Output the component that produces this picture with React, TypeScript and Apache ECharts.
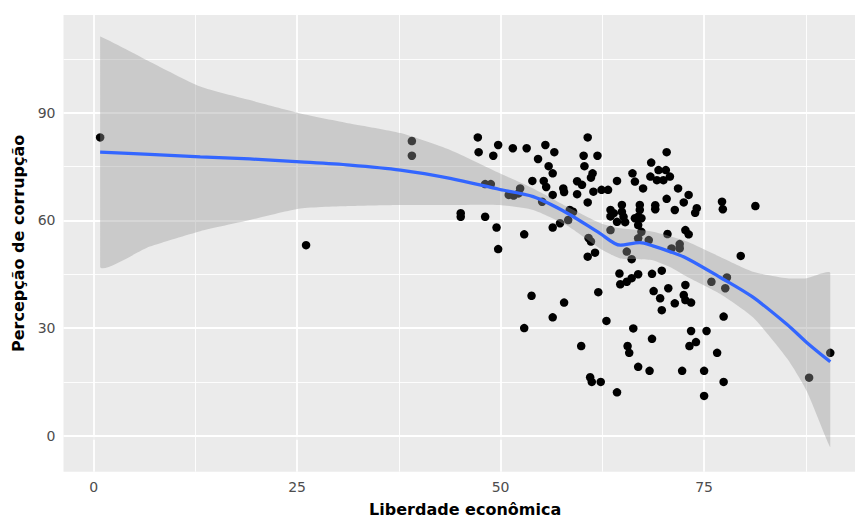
import React, { useEffect, useRef } from "react";
import * as echarts from "echarts";

// Scatter: Liberdade econômica (x) vs Percepção de corrupção (y)
const libertyX = [
  0.8, 26.1, 39.1, 39.1, 45.1, 45.1, 47.2, 47.3, 49.7, 49.1,
  48.1, 48.8, 48.1, 49.5, 49.7, 51.5, 53.2, 51.0, 51.6, 52.4,
  52.2, 52.9, 52.9, 53.8, 55.5, 56.6, 54.6, 55.9, 56.4, 53.9,
  55.3, 55.6, 55.1, 56.4, 56.4, 57.3, 58.3, 58.5, 58.9, 56.4,
  57.8, 57.7, 57.8, 60.7, 60.2, 61.9, 60.3, 61.3, 61.1, 59.4,
  60.0, 59.4, 61.4, 60.7, 62.4, 63.2, 60.8, 61.1, 60.7, 61.6,
  62.0, 63.0, 59.9, 61.0, 61.2, 62.3, 64.3, 64.3, 66.2, 66.5,
  67.5, 63.5, 63.9, 63.5, 64.9, 64.9, 65.1, 65.3, 64.3, 67.1,
  67.1, 66.9, 66.5, 67.3, 66.9, 63.5, 67.3, 66.9, 68.2, 65.5,
  66.1, 64.6, 64.7, 65.5, 66.1, 66.9, 68.6, 69.8, 68.8, 70.6,
  72.7, 69.6, 72.5, 72.7, 73.4, 71.4, 69.8, 66.3, 68.6, 65.6,
  65.8, 66.9, 68.3, 73.4, 75.3, 74.0, 73.2, 76.6, 72.3, 75.0,
  77.4, 75.0, 70.4, 68.5, 69.4, 70.3, 68.4, 69.2, 70.0, 70.8,
  71.8, 73.1, 72.5, 70.4, 69.0, 69.0, 71.4, 74.1, 73.9, 77.2,
  77.3, 81.3, 70.5, 72.7, 73.1, 71.0, 72.0, 72.0, 79.5, 75.9,
  77.8, 77.6, 77.4, 87.9, 90.5,
];
const corruptionY = [
  83.1, 53.1, 82.1, 78.0, 62.0, 61.0, 83.1, 79.0, 81.0, 78.0,
  70.1, 70.1, 61.0, 58.0, 52.0, 80.1, 80.1, 67.1, 66.9, 68.9,
  67.5, 56.1, 30.0, 39.0, 81.0, 79.0, 77.1, 75.1, 73.1, 71.0,
  71.0, 69.3, 65.2, 67.1, 58.0, 59.2, 60.1, 62.9, 62.4, 33.0,
  37.1, 68.9, 67.9, 83.1, 78.0, 78.0, 75.1, 73.1, 71.9, 70.9,
  69.9, 67.3, 68.0, 65.0, 68.5, 68.5, 55.1, 54.1, 49.9, 51.0,
  40.0, 32.0, 25.0, 16.3, 15.0, 15.0, 12.1, 71.0, 73.1, 70.8,
  68.9, 62.9, 62.0, 61.1, 64.3, 62.4, 61.0, 59.5, 59.6, 64.3,
  62.9, 61.0, 60.6, 60.6, 58.7, 57.3, 56.8, 55.0, 54.5, 51.3,
  49.2, 45.2, 42.2, 42.9, 43.9, 45.0, 45.1, 46.0, 40.3, 41.1,
  42.0, 38.3, 39.2, 37.8, 37.1, 36.9, 35.0, 29.9, 27.0, 25.0,
  23.1, 19.2, 18.1, 29.2, 29.2, 26.1, 25.0, 23.1, 18.1, 18.1,
  15.0, 11.1, 79.0, 76.1, 74.0, 74.0, 72.2, 71.2, 71.2, 72.2,
  68.9, 67.1, 65.0, 66.0, 64.2, 63.1, 62.9, 63.4, 62.1, 65.2,
  63.1, 64.0, 56.2, 57.3, 56.1, 52.2, 53.4, 52.2, 50.1, 42.9,
  44.1, 41.1, 33.2, 16.2, 23.1,
];

// LOESS smooth
const smoothX = [0.8, 6.9, 13.1, 19.2, 25.4, 31.5, 37.7, 43.8, 49.9, 54.0, 58.2, 62.2, 64.7, 67.1, 68.7, 70.8, 72.9, 77.0, 81.0, 85.2, 87.6, 90.5];
const smoothFit = [79.0, 78.4, 77.7, 77.1, 76.3, 75.4, 74.0, 71.7, 68.6, 66.6, 62.0, 56.4, 53.1, 53.8, 52.9, 51.3, 49.4, 44.1, 38.6, 31.0, 26.0, 20.6];
const smoothUpper = [111.2, 104.2, 97.3, 93.5, 89.8, 87.0, 84.3, 79.6, 73.1, 68.9, 63.8, 59.3, 57.8, 57.3, 56.8, 55.6, 54.1, 49.8, 45.7, 43.9, 43.9, 45.3];
const smoothLower = [47.1, 52.7, 57.0, 60.1, 63.3, 64.0, 64.3, 64.3, 64.3, 62.9, 58.5, 52.2, 49.4, 49.2, 48.9, 47.0, 44.3, 39.5, 33.0, 21.5, 12.5, -3.1];

const xTicks = [0, 25, 50, 75];
const yTicks = [0, 30, 60, 90];
const xMinor = [12.5, 37.5, 62.5, 87.5];
const yMinor = [15, 45, 75, 105];

const xTitle = "Liberdade econômica";
const yTitle = "Percepção de corrupção";

export default function App() {
  const ref = useRef<HTMLDivElement>(null);

  useEffect(() => {
    const chart = echarts.init(ref.current as HTMLDivElement, null, { renderer: "svg" });
    const points = libertyX.map((x, i) => [x, corruptionY[i]]);
    const band = smoothX.map((x, i) => [x, smoothLower[i], smoothUpper[i]]);
    const fit = smoothX.map((x, i) => [x, smoothFit[i]]);

    const gridData: any[] = [
      ...xMinor.map((v) => ({ xAxis: v, lineStyle: { width: 0.9 } })),
      ...yMinor.map((v) => ({ yAxis: v, lineStyle: { width: 0.9 } })),
      ...xTicks.map((v) => ({ xAxis: v, lineStyle: { width: 1.8 } })),
      ...yTicks.map((v) => ({ yAxis: v, lineStyle: { width: 1.8 } })),
    ];

    const tickLabel = {
      color: "#4D4D4D",
      fontFamily: "DejaVu Sans",
      fontSize: 14,
      margin: 8,
    };
    const nameStyle = {
      color: "#000000",
      fontFamily: "DejaVu Sans",
      fontWeight: "bold",
      fontSize: 16,
    };

    chart.setOption({
      animation: false,
      grid: {
        left: 63.5,
        top: 15,
        width: 803.4,
        height: 456.7,
        show: true,
        backgroundColor: "#EBEBEB",
        borderWidth: 0,
        containLabel: false,
        outerBoundsMode: "none",
      },
      xAxis: {
        type: "value",
        min: -3.7,
        max: 95,
        name: xTitle,
        nameLocation: "middle",
        nameGap: 30,
        nameTextStyle: nameStyle,
        axisLine: { show: false },
        axisTick: { show: true, customValues: xTicks, length: 4, lineStyle: { color: "#333333", width: 1.5 } },
        axisLabel: { ...tickLabel, customValues: xTicks },
        splitLine: { show: false },
      },
      yAxis: {
        type: "value",
        min: -10,
        max: 117.2,
        name: yTitle,
        nameLocation: "middle",
        nameRotate: 90,
        nameGap: 36,
        nameTextStyle: nameStyle,
        axisLine: { show: false },
        axisTick: { show: true, customValues: yTicks, length: 4, lineStyle: { color: "#333333", width: 1.5 } },
        axisLabel: { ...tickLabel, customValues: yTicks },
        splitLine: { show: false },
      },
      series: [
        {
          type: "line",
          data: [],
          silent: true,
          z: 1,
          markLine: {
            z: 1,
            silent: true,
            symbol: ["none", "none"],
            label: { show: false },
            lineStyle: { color: "#FFFFFF", type: "solid" },
            data: gridData,
          },
        },
        {
          type: "scatter",
          data: points,
          symbol: "circle",
          symbolSize: 8.5,
          itemStyle: { color: "#000000", opacity: 1 },
          silent: true,
          z: 2,
        },
        {
          type: "custom",
          data: band,
          encode: { x: 0, y: [1, 2] },
          silent: true,
          z: 3,
          renderItem: (params: any, api: any) => {
            if (params.dataIndex !== 0) return null;
            const up = smoothX.map((x, i) => api.coord([x, smoothUpper[i]]));
            const lo = smoothX.map((x, i) => api.coord([x, smoothLower[i]])).reverse();
            const pts = up.concat(lo);
            let minX = Infinity, minY = Infinity, maxX = -Infinity, maxY = -Infinity;
            pts.forEach((p: number[]) => {
              minX = Math.min(minX, p[0]); maxX = Math.max(maxX, p[0]);
              minY = Math.min(minY, p[1]); maxY = Math.max(maxY, p[1]);
            });
            return {
              type: "polygon",
              shape: { points: pts, smooth: 0.2, smoothConstraint: [[minX, minY], [maxX, maxY]] },
              style: { fill: "rgba(153,153,153,0.4)", stroke: "none" },
            };
          },
        },
        {
          type: "line",
          data: fit,
          smooth: 0.3,
          symbol: "none",
          showSymbol: false,
          silent: true,
          lineStyle: { color: "#3366FF", width: 3.3 },
          z: 4,
        },
      ],
    });
    return () => chart.dispose();
  }, []);

  return (
    <div
      ref={ref}
      style={{ position: "absolute", left: 0, top: 0, width: 855, height: 522, background: "#FFFFFF" }}
    />
  );
}
